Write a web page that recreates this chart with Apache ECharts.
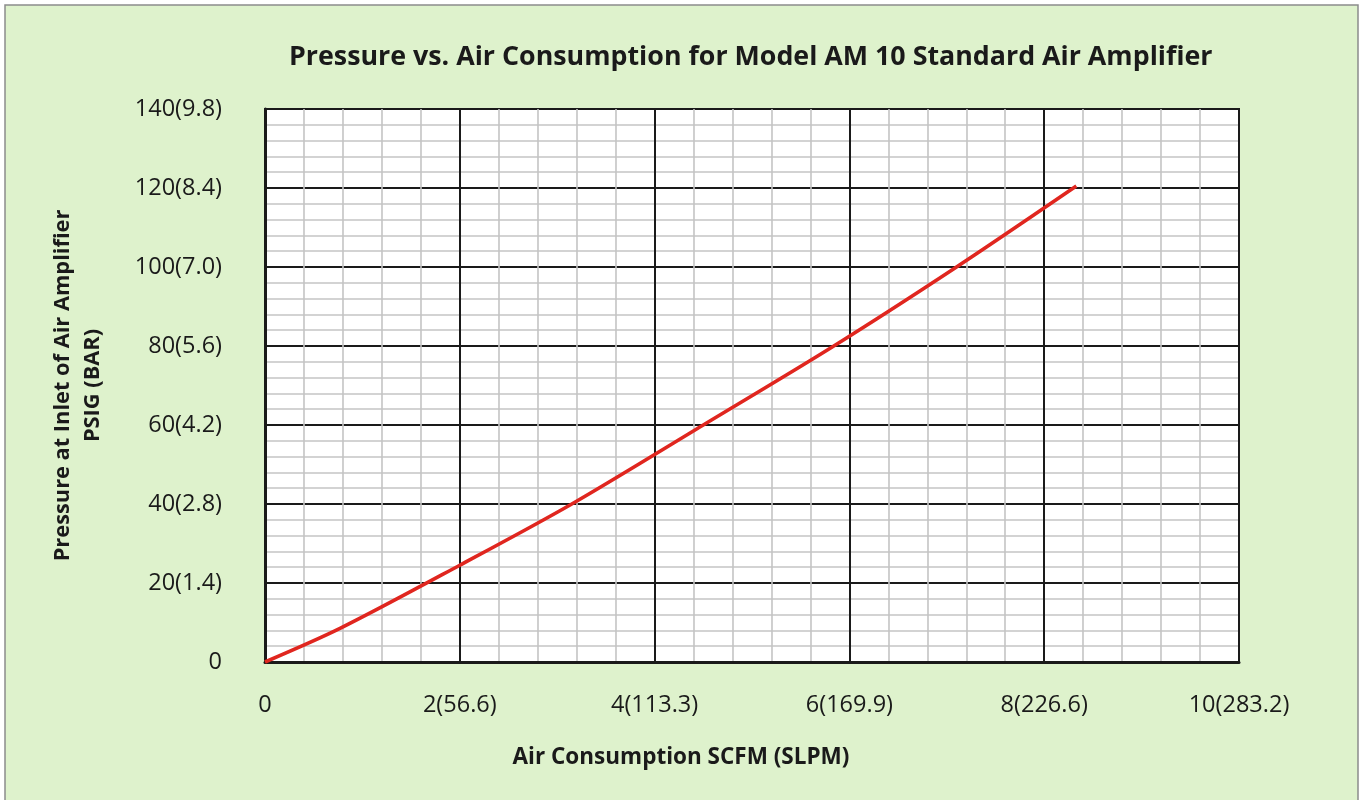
<!DOCTYPE html>
<html>
<head>
<meta charset="utf-8">
<script src="https://cdn.jsdelivr.net/npm/echarts@6/dist/echarts.min.js"></script>
<style>html,body{margin:0;padding:0;background:#fff;}#c{width:1359px;height:800px;}</style>
</head>
<body>
<div id="c"></div>
<script>
// Data (SCFM, PSIG)
const airConsumption = [0, 0.77, 2.0, 3.15, 4.5, 5.84, 7.1, 8.33];
const pressure       = [0, 8.5, 24.5, 40.0, 60.0, 80.0, 100.0, 120.5];
const xTickLabels = ['0', '2(56.6)', '4(113.3)', '6(169.9)', '8(226.6)', '10(283.2)'];
const yTickLabels = ['0', '20(1.4)', '40(2.8)', '60(4.2)', '80(5.6)', '100(7.0)', '120(8.4)', '140(9.8)'];
const titleText = 'Pressure vs. Air Consumption for Model AM 10 Standard Air Amplifier';
const xName = 'Air Consumption SCFM (SLPM)';
const yName = 'Pressure at Inlet of Air Amplifier\nPSIG (BAR)';

const FONT = '"Open Sans", "Noto Sans", sans-serif';
const chart = echarts.init(document.getElementById('c'), null, {renderer: 'canvas'});
chart.setOption({
  backgroundColor: '#fff',
  animation: false,
  graphic: [{
    type: 'rect', z: -10,
    shape: {x: 5, y: 5, width: 1353, height: 800},
    style: {fill: '#def2cc', stroke: '#8c8c8c', lineWidth: 1.5}
  }],
  title: {
    text: titleText, left: 284, top: 39,
    textStyle: {fontFamily: FONT, fontWeight: 'bold', fontSize: 26.8, color: '#1a1a1a'}
  },
  grid: {left: 265, top: 109, right: 120, bottom: 138, show: true,
         backgroundColor: '#fff', borderColor: '#1a1a1a', borderWidth: 2},
  xAxis: {
    type: 'value', min: 0, max: 10, interval: 2,
    name: xName, nameLocation: 'middle', nameGap: 84,
    nameTextStyle: {fontFamily: FONT, fontWeight: 'bold', fontSize: 22.5, color: '#1a1a1a',
                    padding: [0, 142, 0, 0]},
    axisLine: {show: true, lineStyle: {color: '#1a1a1a', width: 3}},
    axisTick: {show: false},
    axisLabel: {margin: 31, fontFamily: FONT, fontSize: 23.5, color: '#1a1a1a',
                formatter: v => xTickLabels[Math.round(v / 2)]},
    splitLine: {show: true, lineStyle: {color: '#1a1a1a', width: 2}},
    minorTick: {show: false, splitNumber: 5},
    minorSplitLine: {show: true, lineStyle: {color: '#c4c4c4', width: 1.6}}
  },
  yAxis: {
    type: 'value', min: 0, max: 140, interval: 20,
    name: yName, nameLocation: 'middle', nameGap: 157, nameRotate: 90,
    nameTextStyle: {fontFamily: FONT, fontWeight: 'bold', fontSize: 21.8, color: '#1a1a1a', lineHeight: 30},
    axisLine: {show: true, lineStyle: {color: '#1a1a1a', width: 3}},
    axisTick: {show: false},
    axisLabel: {margin: 43, fontFamily: FONT, fontSize: 23.5, color: '#1a1a1a',
                formatter: v => yTickLabels[Math.round(v / 20)]},
    splitLine: {show: true, lineStyle: {color: '#1a1a1a', width: 2}},
    minorTick: {show: false, splitNumber: 5},
    minorSplitLine: {show: true, lineStyle: {color: '#c4c4c4', width: 1.6}}
  },
  series: [{
    type: 'line',
    data: airConsumption.map((x, i) => [x, pressure[i]]),
    smooth: 0.3,
    showSymbol: false,
    lineStyle: {color: '#e0261f', width: 3.6}
  }]
});
</script>
</body>
</html>
